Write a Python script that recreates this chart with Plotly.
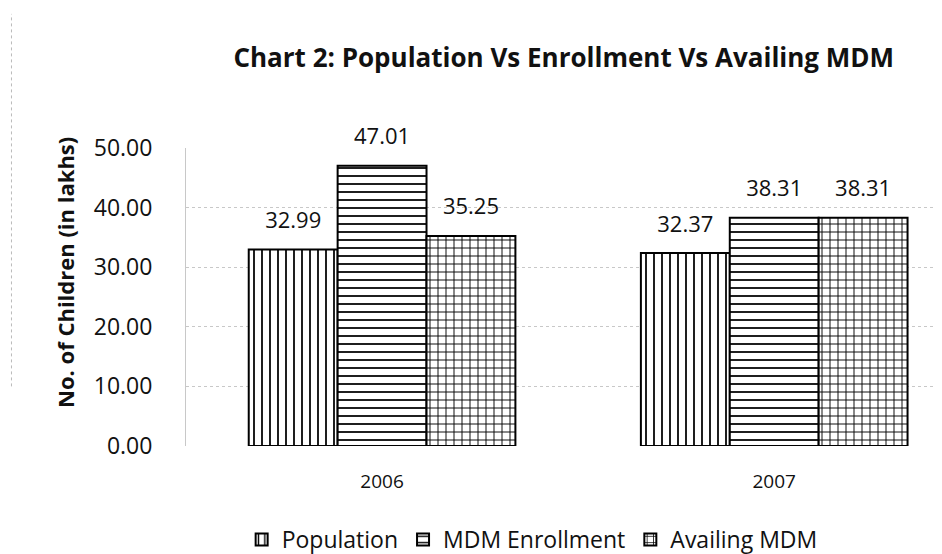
import plotly.graph_objects as go

years = ["2006", "2007"]
population = [32.99, 32.37]
mdm_enrollment = [47.01, 38.31]
availing_mdm = [35.25, 38.31]
tick_vals = [0, 10, 20, 30, 40, 50]
tick_text = ["0.00", "10.00", "20.00", "30.00", "40.00", "50.00"]

series = [
    ("Population", population, "|"),
    ("MDM Enrollment", mdm_enrollment, "-"),
    ("Availing MDM", availing_mdm, "+"),
]

FONT = "Open Sans"
GAP = 0.32
fig = go.Figure()
for i, (name, vals, shape) in enumerate(series):
    fig.add_trace(go.Bar(
        name=name, x=years, y=vals, offsetgroup=str(i),
        marker=dict(
            color="white",
            line=dict(color="black", width=2),
            pattern=dict(shape=shape, fgcolor="black", bgcolor="white",
                         size=8, solidity=0.22, fillmode="replace"),
        ),
    ))
for i, (name, vals, shape) in enumerate(series):
    fig.add_trace(go.Scatter(
        x=years, y=vals, offsetgroup=str(i), mode="markers+text",
        text=[f"{v:.2f}" for v in vals], textposition="top center",
        textfont=dict(family=FONT, size=22, color="#111"),
        marker=dict(size=24, opacity=0), showlegend=False, hoverinfo="skip",
        cliponaxis=False,
    ))

fig.update_layout(
    width=942, height=554,
    paper_bgcolor="white", plot_bgcolor="white",
    barmode="group", bargap=GAP, bargroupgap=0,
    scattermode="group", scattergap=GAP,
    margin=dict(l=178, r=15, t=140, b=116, autoexpand=False),
    font=dict(family=FONT, color="#111"),
    title=dict(text="<b>Chart 2: Population Vs Enrollment Vs Availing MDM</b>",
               font=dict(family=FONT, size=26, color="#111"),
               x=0.59, xanchor="center", y=0.91, yanchor="middle"),
    legend=dict(orientation="h", x=0.85, xanchor="right", y=-0.386, yanchor="bottom",
                font=dict(family=FONT, size=23, color="#111"),
                itemwidth=30, tracegroupgap=0),
    xaxis=dict(range=[-0.5, 1.41], showgrid=False, showline=False, ticks="",
               tickfont=dict(family=FONT, size=19, color="#111"),
               ticklabelstandoff=22, automargin=False),
    yaxis=dict(range=[0, 50], tickvals=tick_vals, ticktext=tick_text,
               showgrid=True, gridcolor="#c8c8c8", griddash="dot", gridwidth=1,
               showline=True, linecolor="#c8c8c8", linewidth=1,
               zeroline=False, automargin=False,
               tickfont=dict(family=FONT, size=23, color="#111"),
               ticklabelstandoff=28),
    annotations=[dict(text="<b>No. of Children (in lakhs)</b>", textangle=-90,
                      xref="paper", yref="paper", x=-0.1616, y=0.584,
                      xanchor="center", yanchor="middle", showarrow=False,
                      font=dict(family=FONT, size=22, color="#111"))],
)
fig.add_shape(type="line", xref="paper", yref="paper", x0=-0.233, x1=-0.233,
              y0=0.2, y1=1.45, line=dict(color="#bbbbbb", width=1, dash="dot"))
fig.write_html("out.html")
